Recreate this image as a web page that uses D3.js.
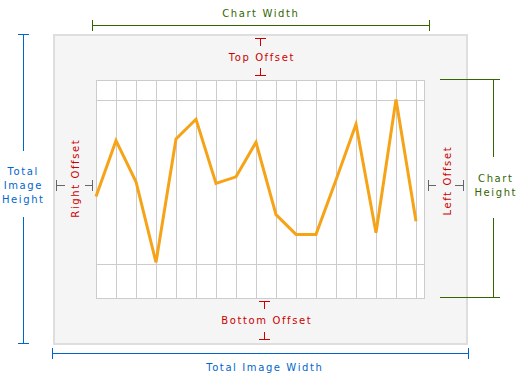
<!DOCTYPE html>
<html>
<head>
<meta charset="utf-8">
<script src="https://cdn.jsdelivr.net/npm/d3@7"></script>
<style>
  html, body { margin: 0; padding: 0; background: #ffffff; }
  svg { display: block; }
  text { font-family: Verdana, "DejaVu Sans", sans-serif; font-size: 10px; letter-spacing: 1.6px; }
</style>
</head>
<body>
<svg id="chart" width="518" height="383"></svg>
<script>
// ---- data ----
const values = [41, 75, 50, 1, 76, 88, 49, 53, 74, 30, 18, 18, 51, 85, 19, 100, 26];
const gridValues = [0, 100];
const offsetLabels = ["Top Offset", "Bottom Offset", "Right Offset", "Left Offset"];
const dimensionLabels = ["Chart Width", "Total Image Width"];
const heightLabelTotal = ["Total", "Image", "Height"];
const heightLabelChart = ["Chart", "Height"];

// ---- layout ----
const svg = d3.select("#chart");
const outer = { x0: 53, y0: 34, x1: 467, y1: 344 };
const plot = { x0: 96, y0: 80, x1: 424, y1: 298 };
const RED = "#cc0000", GREEN = "#336600", BLUE = "#0066cc", GREY = "#666666";
const LS = 1.6;

const x = d3.scaleLinear().domain([0, values.length - 1]).range([96, 416]);
const y = d3.scaleLinear().domain([0, 100]).range([264, 99.5]);

// outer image box
svg.append("rect")
  .attr("x", outer.x0 + 1).attr("y", outer.y0 + 1)
  .attr("width", outer.x1 - outer.x0 - 1).attr("height", outer.y1 - outer.y0 - 1)
  .attr("fill", "#f5f5f5").attr("stroke", "#dedede").attr("stroke-width", 2);

// plot canvas
svg.append("rect")
  .attr("x", plot.x0 + 0.5).attr("y", plot.y0 + 0.5)
  .attr("width", plot.x1 - plot.x0).attr("height", plot.y1 - plot.y0)
  .attr("fill", "#ffffff").attr("stroke", "#cccccc").attr("stroke-width", 1);

// vertical grid lines (one at each data point except the first)
svg.append("g").selectAll("line")
  .data(d3.range(1, values.length))
  .join("line")
  .attr("x1", d => Math.round(x(d)) + 0.5).attr("x2", d => Math.round(x(d)) + 0.5)
  .attr("y1", plot.y0).attr("y2", plot.y1)
  .attr("stroke", "#cccccc").attr("stroke-width", 1);

// horizontal grid lines
svg.append("g").selectAll("line")
  .data(gridValues)
  .join("line")
  .attr("x1", plot.x0).attr("x2", plot.x1)
  .attr("y1", d => Math.round(y(d)) + 0.5).attr("y2", d => Math.round(y(d)) + 0.5)
  .attr("stroke", "#cccccc").attr("stroke-width", 1);

// data line
svg.append("path")
  .datum(values)
  .attr("fill", "none")
  .attr("stroke", "#f6a318")
  .attr("stroke-width", 3)
  .attr("d", d3.line().x((d, i) => x(i)).y(d => y(d)));

// helpers
function seg(x1, y1, x2, y2, color) {
  svg.append("line").attr("x1", x1).attr("y1", y1).attr("x2", x2).attr("y2", y2)
    .attr("stroke", color).attr("stroke-width", 1);
}
function txt(s, tx, ty, color, rot) {
  const t = svg.append("text").attr("text-anchor", "middle").attr("fill", color).text(s);
  if (rot) t.attr("transform", `translate(${tx},${ty - LS / 2}) rotate(-90)`);
  else t.attr("x", tx + LS / 2).attr("y", ty);
}

// ---- Chart Width (green, top) ----
seg(92, 25.5, 430, 25.5, GREEN);
seg(92.5, 20, 92.5, 31, GREEN);
seg(429.5, 20, 429.5, 31, GREEN);
txt(dimensionLabels[0], 260, 17, GREEN);

// ---- Total Image Width (blue, bottom) ----
seg(52, 353.5, 469, 353.5, BLUE);
seg(52.5, 348, 52.5, 359, BLUE);
seg(468.5, 348, 468.5, 359, BLUE);
txt(dimensionLabels[1], 264, 371, BLUE);

// ---- Total Image Height (blue, left) ----
seg(23.5, 34, 23.5, 151, BLUE);
seg(23.5, 217, 23.5, 344, BLUE);
seg(18, 34.5, 29, 34.5, BLUE);
seg(18, 343.5, 29, 343.5, BLUE);
heightLabelTotal.forEach((s, i) => txt(s, 22.5, 175 + i * 14, BLUE));

// ---- Chart Height (green, right) ----
seg(440, 79.5, 500, 79.5, GREEN);
seg(440, 297.5, 500, 297.5, GREEN);
seg(493.5, 80, 493.5, 157, GREEN);
seg(493.5, 218, 493.5, 297, GREEN);
heightLabelChart.forEach((s, i) => txt(s, 495, 182 + i * 14, GREEN));

// ---- Top Offset (red) ----
seg(255, 38.5, 266, 38.5, RED);
seg(260.5, 38, 260.5, 46, RED);
seg(260.5, 68, 260.5, 76, RED);
seg(255, 75.5, 266, 75.5, RED);
txt(offsetLabels[0], 261, 61, RED);

// ---- Bottom Offset (red) ----
seg(259, 301.5, 270, 301.5, RED);
seg(264.5, 301, 264.5, 309, RED);
seg(264.5, 332, 264.5, 340, RED);
seg(259, 339.5, 270, 339.5, RED);
txt(offsetLabels[1], 266, 324, RED);

// ---- Right Offset (red, rotated, left margin) ----
txt(offsetLabels[2], 78.5, 179, RED, true);
seg(56.5, 180, 56.5, 191, GREY);
seg(57, 185.5, 65, 185.5, GREY);
seg(85, 185.5, 92, 185.5, GREY);
seg(92.5, 180, 92.5, 191, GREY);

// ---- Left Offset (red, rotated, right margin) ----
txt(offsetLabels[3], 450.5, 181.5, RED, true);
seg(428.5, 180, 428.5, 191, GREY);
seg(429, 185.5, 436, 185.5, GREY);
seg(455, 185.5, 463, 185.5, GREY);
seg(463.5, 180, 463.5, 191, GREY);
</script>
</body>
</html>
